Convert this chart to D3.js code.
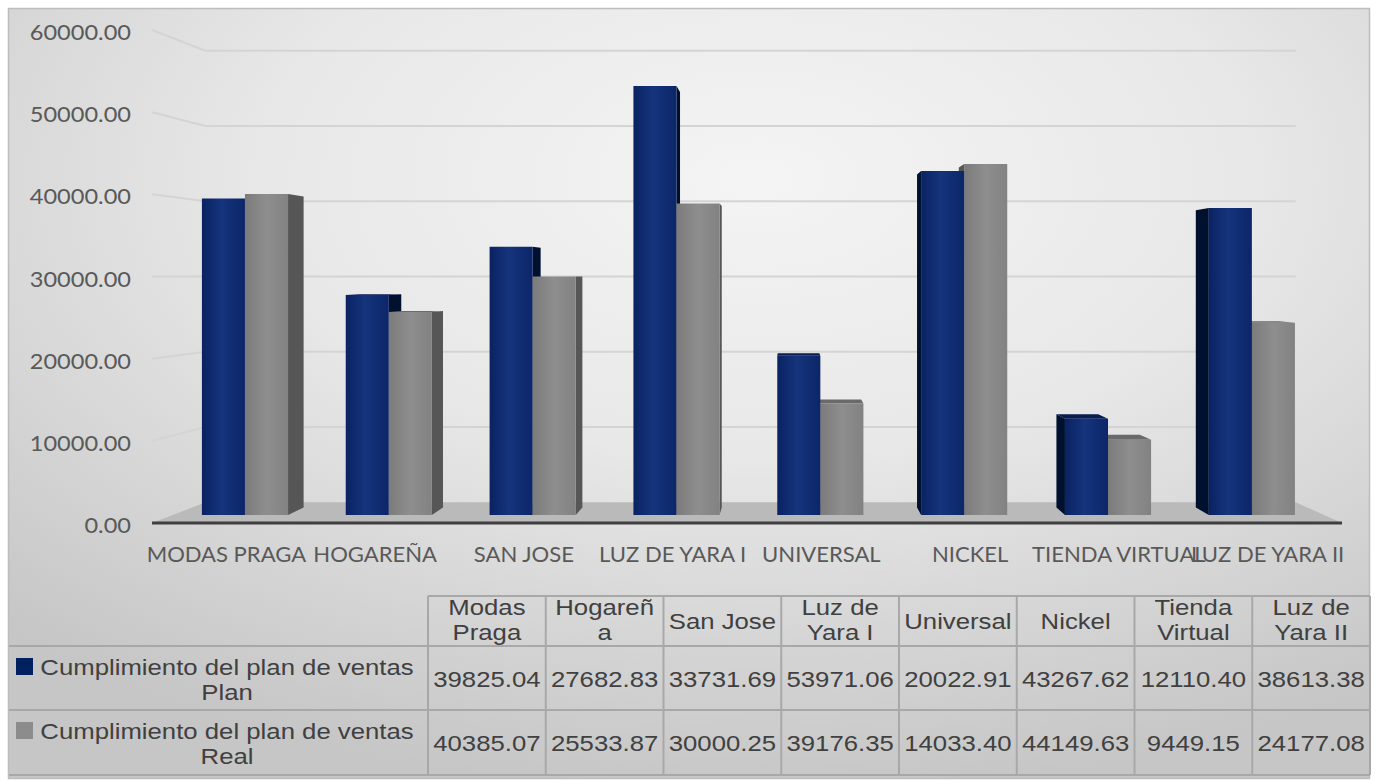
<!DOCTYPE html>
<html>
<head>
<meta charset="utf-8">
<script src="https://cdn.jsdelivr.net/npm/d3@7"></script>
<style>
  body { margin: 0; background: #ffffff; }
  svg { display: block; }
</style>
</head>
<body>
<svg id="chart" width="1379" height="782"></svg>
<script>
// ---- data ----
const categories = ["MODAS PRAGA", "HOGAREÑA", "SAN JOSE", "LUZ DE YARA I", "UNIVERSAL", "NICKEL", "TIENDA VIRTUAL", "LUZ DE YARA II"];
const headerLabels = [["Modas", "Praga"], ["Hogareñ", "a"], ["San Jose"], ["Luz de", "Yara I"], ["Universal"], ["Nickel"], ["Tienda", "Virtual"], ["Luz de", "Yara II"]];
const planValues = [39825.04, 27682.83, 33731.69, 53971.06, 20022.91, 43267.62, 12110.40, 38613.38];
const realValues = [40385.07, 25533.87, 30000.25, 39176.35, 14033.40, 44149.63, 9449.15, 24177.08];
const seriesKeys = ["plan", "real"];
const seriesLabels = [["Cumplimiento del plan de ventas", "Plan"], ["Cumplimiento del plan de ventas", "Real"]];
const yTicks = [0, 10000, 20000, 30000, 40000, 50000, 60000];

// ---- setup ----
const svg = d3.select("#chart");
const defs = svg.append("defs");

// perspective: front plane coordinates are pulled toward a vanishing point
const vp = { x: 790, y: 277 };
const sWall = 0.916, sFront = 0.967, sBack = 0.937;
const proj = (X, Y, s) => [vp.x + (X - vp.x) * s, vp.y + (Y - vp.y) * s];

const x = d3.scaleBand().domain(categories).range([152, 1342]);
const x1 = d3.scaleBand().domain(seriesKeys).range([0, x.bandwidth()]).paddingOuter(0.67);
const y = d3.scaleLinear().domain([0, 60000]).range([523, 30]);
const fmt = d3.format(".2f");

// background gradient
const bg = defs.append("radialGradient").attr("id", "bg")
  .attr("cx", "55%").attr("cy", "22%").attr("r", "80%");
bg.append("stop").attr("offset", "0%").attr("stop-color", "#f4f4f4");
bg.append("stop").attr("offset", "45%").attr("stop-color", "#e8e8e8");
bg.append("stop").attr("offset", "100%").attr("stop-color", "#c6c6c6");

function faceGradient(id, stops) {
  const g = defs.append("linearGradient").attr("id", id).attr("x1", "0").attr("x2", "1").attr("y1", "0").attr("y2", "0");
  stops.forEach(([o, c]) => g.append("stop").attr("offset", o).attr("stop-color", c));
}
faceGradient("planFront", [[0, "#0a2262"], [0.45, "#15347c"], [1, "#0c2668"]]);
faceGradient("realFront", [[0, "#7b7b7b"], [0.5, "#8e8e8e"], [1, "#828282"]]);

const colors = {
  plan: { front: "url(#planFront)", side: "#00102f", top: "#0a1d50", legend: "#002060" },
  real: { front: "url(#realFront)", side: "#565656", top: "#6a6a6a", legend: "#8c8c8c" }
};

svg.append("rect").attr("x", 8.5).attr("y", 8.5).attr("width", 1361).attr("height", 770)
  .attr("fill", "url(#bg)").attr("stroke", "#bdbdbd").attr("stroke-width", 1.5);

// ---- walls, floor, gridlines ----
const [x0, x1e] = x.range();
const back = v => proj(x0, y(v), sWall);
const backRight = v => proj(x1e, y(v), sWall);

const floor = [[x0, y(0)], [x1e, y(0)], backRight(0), back(0)];
svg.append("polygon").attr("points", floor.map(p => p.join(",")).join(" "))
  .attr("fill", "#bababa");

const grid = svg.append("g").attr("fill", "none").attr("stroke", "#d4d4d4").attr("stroke-width", 2);
yTicks.filter(v => v > 0).forEach(v => {
  const b = back(v), br = backRight(v);
  grid.append("line").attr("x1", b[0]).attr("y1", b[1]).attr("x2", br[0]).attr("y2", br[1]);
  grid.append("line").attr("x1", x0).attr("y1", y(v)).attr("x2", b[0]).attr("y2", b[1]);
});

svg.append("line").attr("x1", x0).attr("y1", y(0)).attr("x2", x1e).attr("y2", y(0))
  .attr("stroke", "#3f3f3f").attr("stroke-width", 3);

// ---- text helper (glyphs drawn slightly wide) ----
function label(g, px, py, str, o) {
  return g.append("text")
    .attr("transform", `translate(${px},${py}) scale(${o.sx || 1},1)`)
    .attr("text-anchor", o.anchor || "middle")
    .attr("font-family", o.font)
    .attr("font-size", o.size)
    .attr("fill", o.color)
    .text(str);
}

// y axis labels
const yAxis = svg.append("g");
yTicks.forEach(v => {
  label(yAxis, 131, y(v) + 10, fmt(v), { anchor: "end", font: "Lato, sans-serif", size: 20.5, sx: 1.15, color: "#595959" });
});

// ---- bars ----
const bars = [];
categories.forEach((c, i) => {
  [planValues[i], realValues[i]].forEach((v, k) => {
    const key = seriesKeys[k];
    const X0 = x(c) + x1(key), X1 = X0 + x1.bandwidth();
    bars.push({ key, v, X0, X1 });
  });
});
bars.sort((a, b) => Math.abs((b.X0 + b.X1) / 2 - vp.x) - Math.abs((a.X0 + a.X1) / 2 - vp.x));

const barG = svg.append("g");
const poly = (pts, fill) => barG.append("polygon").attr("points", pts.map(p => p.join(",")).join(" ")).attr("fill", fill);
bars.forEach(b => {
  const Yt = y(b.v), Yb = y(0);
  const col = colors[b.key];
  if (b.X1 < vp.x) {
    poly([proj(b.X1, Yt, sFront), proj(b.X1, Yt, sBack), proj(b.X1, Yb, sBack), proj(b.X1, Yb, sFront)], col.side);
  }
  if (b.X0 > vp.x) {
    poly([proj(b.X0, Yt, sFront), proj(b.X0, Yt, sBack), proj(b.X0, Yb, sBack), proj(b.X0, Yb, sFront)], col.side);
  }
  if (Yt > vp.y) {
    poly([proj(b.X0, Yt, sFront), proj(b.X1, Yt, sFront), proj(b.X1, Yt, sBack), proj(b.X0, Yt, sBack)], col.top);
  }
  poly([proj(b.X0, Yt, sFront), proj(b.X1, Yt, sFront), proj(b.X1, Yb, sFront), proj(b.X0, Yb, sFront)], col.front);
});

// category labels
const xAxis = svg.append("g");
categories.forEach(c => {
  label(xAxis, x(c) + x.bandwidth() / 2, 562, c, { font: "Lato, sans-serif", size: 21, sx: 1.05, color: "#595959" });
});

// ---- data table ----
const tx = d3.scaleBand().domain(categories).range([428, 1370]);
const rows = { head: [596, 646], plan: [646, 710], real: [710, 775] };
const tbl = svg.append("g");
const lines = tbl.append("g").attr("stroke", "#a8a8a8").attr("stroke-width", 2);
lines.append("line").attr("x1", 428).attr("x2", 1370).attr("y1", rows.head[0]).attr("y2", rows.head[0]);
[rows.plan[0], rows.real[0], rows.real[1]].forEach(yy =>
  lines.append("line").attr("x1", 9).attr("x2", 1370).attr("y1", yy).attr("y2", yy));
[...categories.map(c => tx(c)), 1370].forEach(xx =>
  lines.append("line").attr("x1", xx).attr("x2", xx).attr("y1", rows.head[0]).attr("y2", rows.real[1]));

const tOpt = { font: "'Liberation Sans', Arial, sans-serif", size: 22, sx: 1.17, color: "#404040" };
categories.forEach((c, i) => {
  const cx = tx(c) + tx.bandwidth() / 2;
  const hl = headerLabels[i];
  if (hl.length === 2) {
    label(tbl, cx, 615, hl[0], tOpt);
    label(tbl, cx, 640, hl[1], tOpt);
  } else {
    label(tbl, cx, 629, hl[0], tOpt);
  }
  label(tbl, cx, 687, fmt(planValues[i]), tOpt);
  label(tbl, cx, 751, fmt(realValues[i]), tOpt);
});

seriesKeys.forEach((key, k) => {
  const top = rows[key][0];
  tbl.append("rect").attr("x", 16).attr("y", top + 12).attr("width", 17).attr("height", 17)
    .attr("fill", colors[key].legend);
  label(tbl, 227, top + 29, seriesLabels[k][0], tOpt);
  label(tbl, 227, top + 54, seriesLabels[k][1], tOpt);
});
</script>
</body>
</html>
